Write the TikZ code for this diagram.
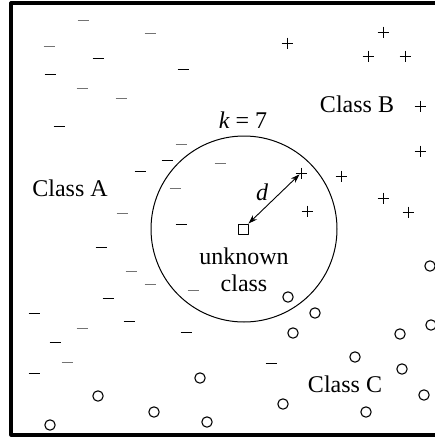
\documentclass[tikz,border=0pt]{standalone}
\usepackage{fontspec}
\setmainfont{Liberation Serif}
\usetikzlibrary{arrows.meta}
\begin{document}
\begin{tikzpicture}[x=0.5pt, y=-0.5pt, line join=round, line cap=butt, >={Stealth[length=4.5pt,width=3pt]}, font=\fontsize{12}{13.5}\selectfont]
    \tikzset{minus/.style={line width=0.45pt}, plus/.style={line width=0.45pt}, dot/.style={line width=0.55pt}}
    \useasboundingbox (0,0) rectangle (434,439);
    \draw[line width=1.6pt] (440,3) -- (11,3) -- (11,435) -- (440,435);
    \draw[line width=0.5pt] (244,229) circle[radius=46.5pt];
    % class A
    \foreach \diem in {(83,20), (150,33), (49,46), (82,88), (121,98), (181,144), (175,188), (122,213), (220,163), (150,284), (193,290), (131,271), (82,328), (67,362)}
        \draw[minus, black!55] \diem ++(-5.5,0) -- ++(11,0);
    \foreach \diem in {(98,58), (183,69), (50,74), (59,126), (167,160), (140,171), (181,224), (101,247), (108,298), (34,313), (129,321), (186,332), (55,342), (34,373), (271,363)}
        \draw[minus] \diem ++(-5.5,0) -- ++(11,0);
    % class B
    \foreach \diem in {(287,43), (383,32), (368,56), (405,56), (420,106), (420,151), (301,173), (341,176), (383,198), (408,212), (307,211)}
        \draw[plus] \diem ++(-5.5,0) -- ++(11,0) \diem ++(0,-5.5) -- ++(0,11);
    % class C
    \foreach \diem in {(200,378), (98,396), (154,412), (50,425), (207,422), (288,297), (315,313), (293,333), (400,334), (355,357), (402,369), (283,404), (366,412), (424,395), (430,266), (431,325)}
        \draw[dot] \diem circle[radius=2.6pt];
    % query point
    \node[draw, line width=0.45pt, minimum size=5pt, inner sep=0pt] (unk) at (243,229) {};
    \coordinate (nb) at (301,173);
    \draw[<->, line width=0.45pt, shorten >=1pt] (unk.north east) -- (nb);
    \node (dlab) at (262,192) {\itshape d};
    \node (kval) at (243,120) {\itshape k\upshape\ = 7};
    \node[align=center] (unklab) at (244,270) {unknown\\class};
    \node (clA) at (70,188) {Class A};
    \node (clB) at (357,104) {Class B};
    \node (clC) at (345,384) {Class C};
\end{tikzpicture}
\end{document}
